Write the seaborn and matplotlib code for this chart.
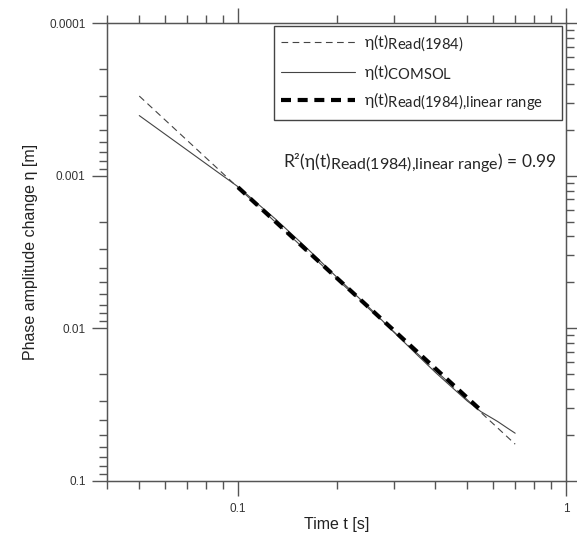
import numpy as np
import pandas as pd
import matplotlib
matplotlib.use("Agg")
import matplotlib.pyplot as plt
import matplotlib.ticker as ticker
import matplotlib._mathtext as mathtext_core
import seaborn as sns

# Data
t_read = [0.05, 0.7]
eta_read = [0.0003, 0.0576]

t_comsol = [0.05, 0.07, 0.085, 0.1, 0.115, 0.13, 0.16, 0.2, 0.25, 0.3,
            0.35, 0.4, 0.45, 0.5, 0.55, 0.6, 0.62, 0.66, 0.7]
eta_comsol = [0.000403, 0.000679, 0.000918, 0.00118, 0.00153, 0.00192,
              0.00290, 0.00462, 0.00725, 0.0107, 0.0148, 0.0195, 0.0245,
              0.0300, 0.0352, 0.0393, 0.0410, 0.0449, 0.0488]

t_linear = [0.1, 0.55]
eta_linear = [0.00119, 0.0345]

labels = [r'η(t)$_{\mathrm{Read(1984)}}$',
          r'η(t)$_{\mathrm{COMSOL}}$',
          r'η(t)$_{\mathrm{Read(1984){,}linear\ range}}$']
r2_text = r'R²(η(t)$_{\mathrm{Read(1984){,}linear\ range}}$) = 0.99'

x_ticks = [0.1, 1]
y_ticks = [0.0001, 0.001, 0.01, 0.1]

# subscripts in the original are nearly full size
mathtext_core.SHRINK_FACTOR = 0.92

sns.set_style("ticks")
plt.rcParams['font.family'] = ['Liberation Sans', 'DejaVu Sans']
plt.rcParams['mathtext.fontset'] = 'custom'
plt.rcParams['mathtext.rm'] = 'Lato'
plt.rcParams['mathtext.it'] = 'Lato:italic'
plt.rcParams['mathtext.bf'] = 'Lato:bold'

axis_col = '#555555'
line_col = '#444444'

fig = plt.figure(figsize=(5.77, 5.38), dpi=100)
ax = fig.add_axes([0.1863, 0.1065, 0.7946, 0.8502])

sns.lineplot(x=t_read, y=eta_read, ax=ax, color=line_col, lw=0.8,
             linestyle=(0, (6, 4)), label=labels[0])
sns.lineplot(x=t_comsol, y=eta_comsol, ax=ax, color=line_col, lw=0.8,
             label=labels[1])
sns.lineplot(x=t_linear, y=eta_linear, ax=ax, color='black', lw=3,
             linestyle=(0, (2.4, 1.6)), label=labels[2])

ax.set_xscale('log')
ax.set_yscale('log')
ax.set_xlim(0.04, 1)
ax.set_ylim(0.1, 0.0001)
ax.set_xticks(x_ticks)
ax.set_yticks(y_ticks)
fmt = ticker.FuncFormatter(lambda v, p: f'{v:g}')
ax.xaxis.set_major_formatter(fmt)
ax.yaxis.set_major_formatter(fmt)
ax.xaxis.set_minor_formatter(ticker.NullFormatter())
ax.yaxis.set_minor_formatter(ticker.NullFormatter())

for s in ax.spines.values():
    s.set_color(axis_col)
    s.set_linewidth(1)

ax.tick_params(which='both', direction='out', color=axis_col, width=1,
               top=True, right=False, labelsize=8.5, labelcolor='#333333')
ax.tick_params(which='major', length=10.8, pad=5)
ax.tick_params(which='minor', length=5.8)

# right axis in the original runs the other way round
ax2 = ax.twinx()
ax2.set_yscale('log')
ax2.set_ylim(0.0001, 0.1)
ax2.yaxis.set_major_formatter(ticker.NullFormatter())
ax2.yaxis.set_minor_formatter(ticker.NullFormatter())
ax2.tick_params(which='both', direction='out', color=axis_col, width=1)
ax2.tick_params(which='major', length=10.8)
ax2.tick_params(which='minor', length=5.8)
for s in ax2.spines.values():
    s.set_color(axis_col)

ax.set_xlabel('Time t [s]', fontsize=11.5, color='#222222', labelpad=2)
ax.set_ylabel('Phase amplitude change η [m]', fontsize=11.5,
              color='#222222', labelpad=8)

handles, _ = ax.get_legend_handles_labels()
ax.get_legend().remove()
leg = ax2.legend(handles, labels, loc='upper left',
                 bbox_to_anchor=(0.363, 0.782, 0.628, 0.212), mode='expand',
                 borderaxespad=0, fancybox=False, framealpha=1,
                 edgecolor='#444444', handlelength=4.6, handletextpad=0.6,
                 labelspacing=0.5, borderpad=0.45,
                 prop={'family': ['Lato', 'DejaVu Sans'], 'size': 11.5})
leg.get_frame().set_linewidth(1)

ax.text(0.383, 0.695, r2_text, transform=ax.transAxes, fontsize=12.5,
        va='center', ha='left', family=['Lato', 'DejaVu Sans'])

fig.savefig('out.png', dpi=100)
